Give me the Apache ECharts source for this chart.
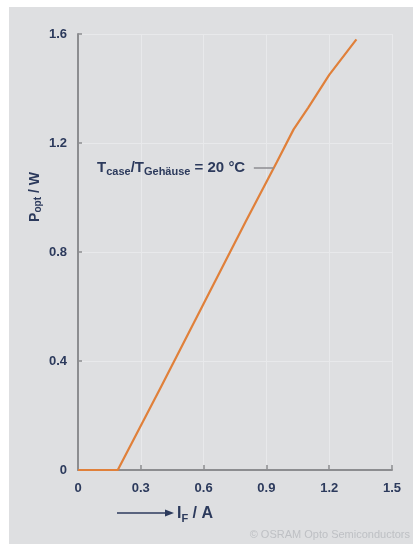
<!DOCTYPE html>
<html><head><meta charset="utf-8">
<script src="https://cdn.jsdelivr.net/npm/echarts@6/dist/echarts.min.js"></script>
<style>html,body{margin:0;padding:0;background:#fff}#c{width:420px;height:544px}</style>
</head><body><div id="c"></div>
<script>
// Data
const currentA = [0, 0.19, 0.40, 0.60, 0.80, 0.95, 1.03, 1.10, 1.20, 1.33];
const powerW   = [0, 0,    0.31, 0.61, 0.91, 1.13, 1.25, 1.33, 1.45, 1.58];
const xTicks = ['0', '0.3', '0.6', '0.9', '1.2', '1.5'];
const yTicks = ['0', '0.4', '0.8', '1.2', '1.6'];
const annotation = {x: 0.935, y: 1.108};

const txt = '#2c3a5c';
const font = 'Liberation Sans';
const chart = echarts.init(document.getElementById('c'), null, {renderer: 'canvas'});
const pts = currentA.map((x, i) => [x, powerW[i]]);

chart.setOption({
  backgroundColor: '#ffffff',
  animation: false,
  graphic: [
    {type: 'rect', z: -10, shape: {x: 9, y: 7, width: 404, height: 537}, style: {fill: '#dedfe1'}},
    {type: 'text', x: 97, y: 168, z: 10, style: {
      text: '{b|T}{s|case}{b|/T}{s|Gehäuse}{b| = 20 °C}', verticalAlign: 'middle',
      rich: {
        b: {fontFamily: font, fontWeight: 'bold', fontSize: 15, fill: txt},
        s: {fontFamily: font, fontWeight: 'bold', fontSize: 11, fill: txt, padding: [7, 0, 0, 0]}
      }
    }},
    {type: 'text', x: 35, y: 197, rotation: Math.PI/2, z: 10, style: {
      text: '{b|P}{s|opt}{b| / W}', align: 'center', verticalAlign: 'middle',
      rich: {
        b: {fontFamily: font, fontWeight: 'bold', fontSize: 14, fill: txt},
        s: {fontFamily: font, fontWeight: 'bold', fontSize: 10, fill: txt, padding: [7, 0, 0, 0]}
      }
    }},
    {type: 'line', z: 10, shape: {x1: 117, y1: 513, x2: 167, y2: 513}, style: {stroke: '#2c3a5c', lineWidth: 1.5}},
    {type: 'polygon', z: 10, shape: {points: [[165, 509.5], [174, 513], [165, 516.5]]}, style: {fill: '#2c3a5c'}},
    {type: 'text', x: 177, y: 514, z: 10, style: {
      text: '{b|I}{s|F}{b| / A}', verticalAlign: 'middle',
      rich: {
        b: {fontFamily: font, fontWeight: 'bold', fontSize: 16, fill: txt},
        s: {fontFamily: font, fontWeight: 'bold', fontSize: 11, fill: txt, padding: [9, 0, 0, 0]}
      }
    }},
    {type: 'text', right: 10, top: 529, z: 10, style: {
      text: '© OSRAM Opto Semiconductors', fontFamily: font, fontSize: 11, fill: '#bec0c4'
    }}
  ],
  grid: {left: 78, right: 28, top: 34, bottom: 74, containLabel: false},
  xAxis: {
    type: 'value', min: 0, max: 1.5, interval: 0.3,
    axisLine: {lineStyle: {color: '#8c8d90', width: 2}},
    axisTick: {inside: true, length: 5, lineStyle: {color: '#8c8d90', width: 1.5}},
    axisLabel: {margin: 12, fontFamily: font, fontWeight: 'bold', fontSize: 13, color: txt,
      formatter: (v, i) => xTicks[i]},
    splitLine: {show: true, lineStyle: {color: '#e8e9eb', width: 1}}
  },
  yAxis: {
    type: 'value', min: 0, max: 1.6, interval: 0.4,
    axisLine: {show: true, lineStyle: {color: '#8c8d90', width: 2}},
    axisTick: {show: true, inside: true, length: 4, lineStyle: {color: '#8c8d90', width: 1.5}},
    axisLabel: {margin: 11, fontFamily: font, fontWeight: 'bold', fontSize: 13, color: txt,
      formatter: (v, i) => yTicks[i]},
    splitLine: {show: true, lineStyle: {color: '#e8e9eb', width: 1}}
  },
  series: [{
    type: 'line', data: pts, showSymbol: false, symbol: 'none',
    lineStyle: {color: '#e0803a', width: 2.2},
    markLine: {
      silent: true, symbol: 'none', label: {show: false},
      lineStyle: {color: '#8c8d90', width: 1.5, type: 'solid'},
      data: [[{coord: [annotation.x - 0.095, annotation.y]}, {coord: [annotation.x, annotation.y]}]]
    }
  }]
});
</script></body></html>
